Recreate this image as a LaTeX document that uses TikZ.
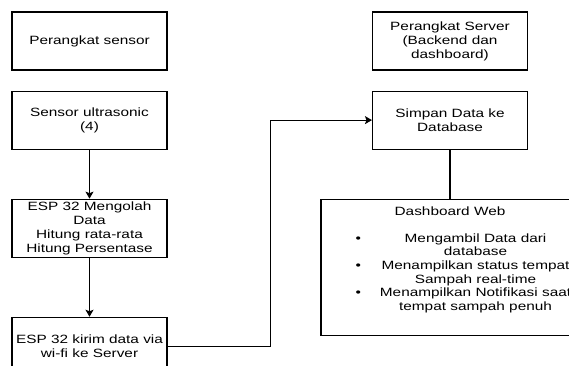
\documentclass[tikz,border=0pt]{standalone}
\usepackage{fontspec}
\setmainfont[FakeStretch=1.28]{Liberation Sans}
\usetikzlibrary{positioning,arrows.meta}

\begin{document}
\begin{tikzpicture}[x=1pt, y=-1pt, node distance=20pt, line width=1.1pt,
	box/.style={draw, rectangle, minimum width=155pt, minimum height=58pt, align=center, inner sep=2pt, font=\fontsize{12}{14}\selectfont},
	flow/.style={-{Stealth[length=7pt,width=8pt,inset=1.5pt]}},
	every node/.style={font=\fontsize{12}{13.7}\selectfont}]
	\useasboundingbox (0,0) rectangle (569,365);
	\clip (0,0) rectangle (569,365);
	% sisi perangkat sensor
	\node[box] (sensorhead) at (89.5,41) {Perangkat sensor};
	\node[box] (ultra) [below=of sensorhead] {Sensor ultrasonic\\(4)};
	\node[box] (olah) [below=49pt of ultra] {ESP 32 Mengolah\\Data\\Hitung rata-rata\\Hitung Persentase};
	\node[box] (kirim) [below=59pt of olah] {ESP 32 kirim data via\\wi-fi ke Server};
	% sisi server
	\node[box] (serverhead) at (450,41) {Perangkat Server\\(Backend dan\\dashboard)};
	\node[box] (simpan) [below=of serverhead] {Simpan Data ke\\Database};
	\node[box, minimum width=258pt, minimum height=136pt] (dash) [below=49pt of simpan] {};
	\node (dashtitle) at (450,211) {Dashboard Web};
	\node[anchor=base west, inner sep=0pt, align=center] (dashlist) at (355,242) {\begin{tabular}[t]{@{}c@{\hspace{19pt}}c@{}}
		\textbullet & Mengambil Data dari\\
		 & database\\
		\textbullet & Menampilkan status tempat\\
		 & Sampah real-time\\
		\textbullet & Menampilkan Notifikasi saat\\
		 & tempat sampah penuh
	\end{tabular}};
	\path[flow]
		(ultra) edge (olah)
		(olah) edge (kirim);
	\draw[flow] (kirim.east) -- ++(103,0) |- (simpan.west);
	\draw (simpan) -- (dash);
\end{tikzpicture}
\end{document}
